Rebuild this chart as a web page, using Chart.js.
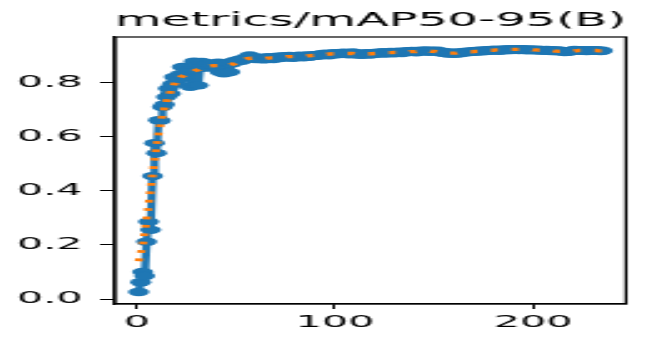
<!DOCTYPE html>
<html lang="en">
<head>
    <meta charset="UTF-8">
    <title>metrics/mAP50-95(B)</title>
    <script src="https://cdn.jsdelivr.net/npm/chart.js"></script>
    <style>
        body { margin:0; overflow:hidden; background:#fff; }
        /* the reference is a stretched picture, so draw narrow and stretch it */
        #wrap { width:260px; height:338px; transform:scaleX(2.5); transform-origin:0 0; }
    </style>
</head>
<body>
    <div id="wrap">
        <canvas id="myChart"></canvas>
    </div>

    <script>
        const chartTitle = 'metrics/mAP50-95(B)';

        // epochs 1..235
        const firstEpoch = 1;
        const epochCount = 235;

        // raw metric per epoch
        const results = [
            0.026, 0.062, 0.100, 0.085, 0.212, 0.286, 0.256, 0.455, 0.577, 0.540,
            0.662, 0.660, 0.711, 0.720, 0.748, 0.779, 0.760, 0.795, 0.822, 0.805,
            0.815, 0.832, 0.859, 0.825, 0.838, 0.845, 0.786, 0.850, 0.879, 0.862,
            0.791, 0.855, 0.878, 0.860, 0.868, 0.857, 0.872, 0.865, 0.870, 0.862,
            0.875, 0.840, 0.868, 0.836, 0.870, 0.874, 0.840, 0.872, 0.880, 0.878,
            0.884, 0.886, 0.882, 0.889, 0.893, 0.890, 0.902, 0.895, 0.892, 0.888,
            0.893, 0.889, 0.892, 0.887, 0.891, 0.895, 0.890, 0.893, 0.888, 0.894,
            0.897, 0.892, 0.895, 0.899, 0.894, 0.897, 0.900, 0.895, 0.893, 0.898,
            0.896, 0.901, 0.898, 0.895, 0.900, 0.902, 0.897, 0.899, 0.903, 0.900,
            0.904, 0.901, 0.906, 0.903, 0.908, 0.905, 0.902, 0.907, 0.910, 0.906,
            0.909, 0.907, 0.911, 0.908, 0.912, 0.909, 0.906, 0.910, 0.913, 0.908,
            0.905, 0.909, 0.906, 0.904, 0.908, 0.910, 0.907, 0.905, 0.909, 0.911,
            0.908, 0.912, 0.910, 0.914, 0.911, 0.909, 0.913, 0.915, 0.912, 0.910,
            0.914, 0.916, 0.913, 0.911, 0.915, 0.917, 0.914, 0.916, 0.918, 0.915,
            0.913, 0.917, 0.919, 0.916, 0.918, 0.920, 0.917, 0.915, 0.919, 0.918,
            0.916, 0.919, 0.914, 0.912, 0.915, 0.911, 0.909, 0.913, 0.910, 0.908,
            0.912, 0.909, 0.913, 0.911, 0.915, 0.913, 0.916, 0.914, 0.917, 0.915,
            0.918, 0.916, 0.919, 0.917, 0.920, 0.918, 0.921, 0.919, 0.922, 0.920,
            0.923, 0.921, 0.919, 0.922, 0.924, 0.921, 0.923, 0.925, 0.922, 0.924,
            0.923, 0.925, 0.922, 0.924, 0.925, 0.923, 0.921, 0.924, 0.922, 0.923,
            0.921, 0.923, 0.920, 0.922, 0.921, 0.919, 0.922, 0.920, 0.918, 0.921,
            0.919, 0.917, 0.920, 0.918, 0.916, 0.914, 0.917, 0.915, 0.918, 0.920,
            0.922, 0.920, 0.921, 0.919, 0.921, 0.920, 0.918, 0.921, 0.919, 0.920,
            0.921, 0.919, 0.920, 0.918, 0.919
        ];

        // smoothed curve (orange dots)
        const smooth = [
            0.140, 0.165, 0.200, 0.245, 0.295, 0.350, 0.405, 0.460, 0.515, 0.565,
            0.610, 0.648, 0.680, 0.707, 0.730, 0.750, 0.767, 0.782, 0.795, 0.805,
            0.813, 0.820, 0.825, 0.829, 0.832, 0.835, 0.838, 0.841, 0.844, 0.847,
            0.849, 0.852, 0.855, 0.857, 0.859, 0.861, 0.862, 0.863, 0.864, 0.864,
            0.864, 0.863, 0.862, 0.862, 0.863, 0.864, 0.866, 0.868, 0.871, 0.874,
            0.877, 0.880, 0.883, 0.886, 0.888, 0.890, 0.891, 0.892, 0.892, 0.892,
            0.891, 0.891, 0.891, 0.891, 0.891, 0.892, 0.892, 0.893, 0.893, 0.894,
            0.895, 0.895, 0.896, 0.896, 0.896, 0.897, 0.897, 0.897, 0.897, 0.897,
            0.898, 0.898, 0.898, 0.899, 0.899, 0.900, 0.900, 0.901, 0.902, 0.902,
            0.903, 0.904, 0.905, 0.905, 0.906, 0.906, 0.907, 0.907, 0.908, 0.908,
            0.908, 0.909, 0.909, 0.909, 0.909, 0.909, 0.909, 0.909, 0.909, 0.908,
            0.908, 0.907, 0.907, 0.907, 0.907, 0.907, 0.907, 0.908, 0.908, 0.909,
            0.909, 0.910, 0.911, 0.911, 0.911, 0.912, 0.912, 0.912, 0.912, 0.913,
            0.913, 0.914, 0.914, 0.914, 0.915, 0.915, 0.915, 0.916, 0.916, 0.916,
            0.916, 0.917, 0.917, 0.917, 0.918, 0.918, 0.918, 0.918, 0.917, 0.917,
            0.916, 0.915, 0.914, 0.913, 0.912, 0.911, 0.911, 0.910, 0.910, 0.910,
            0.910, 0.911, 0.911, 0.912, 0.913, 0.913, 0.914, 0.915, 0.915, 0.916,
            0.917, 0.917, 0.918, 0.919, 0.919, 0.920, 0.920, 0.921, 0.921, 0.921,
            0.922, 0.922, 0.922, 0.923, 0.923, 0.923, 0.923, 0.923, 0.924, 0.924,
            0.924, 0.924, 0.924, 0.924, 0.924, 0.923, 0.923, 0.923, 0.923, 0.922,
            0.922, 0.922, 0.921, 0.921, 0.921, 0.920, 0.920, 0.920, 0.919, 0.919,
            0.918, 0.918, 0.917, 0.917, 0.917, 0.917, 0.917, 0.917, 0.918, 0.918,
            0.919, 0.919, 0.920, 0.920, 0.920, 0.920, 0.920, 0.920, 0.920, 0.920,
            0.920, 0.920, 0.919, 0.919, 0.919
        ];

        const xTicks = [0, 100, 200];
        const yTicks = [0.0, 0.2, 0.4, 0.6, 0.8];

        const epochs = Array.from({length: epochCount}, (_, i) => firstEpoch + i);
        const toPoints = (arr) => arr.map((v, i) => ({x: epochs[i], y: v}));

        const font = { family: 'DejaVu Sans', size: 16.5 };

        // top + right frame lines (matplotlib box)
        const frame = {
            id: 'frame',
            afterDraw(chart) {
                const a = chart.chartArea;
                const ctx = chart.ctx;
                ctx.save();
                ctx.strokeStyle = '#000';
                ctx.lineWidth = 1.2;
                ctx.strokeRect(a.left, a.top, a.right - a.left, a.bottom - a.top);
                ctx.restore();
            }
        };

        var ctx = document.querySelector('#myChart').getContext('2d');

        var myChart = new Chart(ctx, {
            type: 'line',
            data: {
                datasets: [
                    {
                        label: 'smooth',
                        data: toPoints(smooth),
                        borderColor: '#ff7f0e',
                        borderWidth: 3.3,
                        borderDash: [2.8, 5.6],
                        pointRadius: 0,
                        fill: false,
                        order: 0
                    },
                    {
                        label: 'results',
                        data: toPoints(results),
                        borderColor: '#1f77b4',
                        backgroundColor: '#1f77b4',
                        borderWidth: 3.3,
                        borderJoinStyle: 'round',
                        borderCapStyle: 'round',
                        pointRadius: 4.2,
                        pointBorderWidth: 0,
                        pointBackgroundColor: '#1f77b4',
                        fill: false,
                        order: 1
                    }
                ]
            },
            options: {
                responsive: true,
                maintainAspectRatio: false,
                animation: false,
                layout: { padding: { left: 0, right: 9.6, top: 0, bottom: 0 } },
                plugins: {
                    legend: { display: false },
                    tooltip: { enabled: false },
                    title: {
                        display: true,
                        text: chartTitle,
                        fullSize: false,
                        color: '#000',
                        font: { family: 'DejaVu Sans', size: 19.5, weight: 'normal' },
                        padding: { top: 9, bottom: 4.6 }
                    }
                },
                scales: {
                    x: {
                        type: 'linear',
                        min: -10.95,
                        max: 246.9,
                        afterBuildTicks: (s) => { s.ticks = xTicks.map(v => ({value: v})); },
                        afterFit: (s) => { s.height = 34; },
                        grid: { drawOnChartArea: false, drawTicks: true, tickLength: 5, color: '#000', lineWidth: 1 },
                        border: { display: true, color: '#000', width: 1.2 },
                        ticks: { color: '#000', font: font, padding: 4, maxRotation: 0 }
                    },
                    y: {
                        min: -0.0185,
                        max: 0.970,
                        afterBuildTicks: (s) => { s.ticks = yTicks.map(v => ({value: v})); },
                        afterFit: (s) => { s.width = 46; },
                        grid: { drawOnChartArea: false, drawTicks: true, tickLength: 6, color: '#000', lineWidth: 1 },
                        border: { display: true, color: '#000', width: 1.2 },
                        ticks: { color: '#000', font: font, padding: 7, callback: (v) => v.toFixed(1) }
                    }
                }
            },
            plugins: [frame]
        });
    </script>
</body>
</html>
